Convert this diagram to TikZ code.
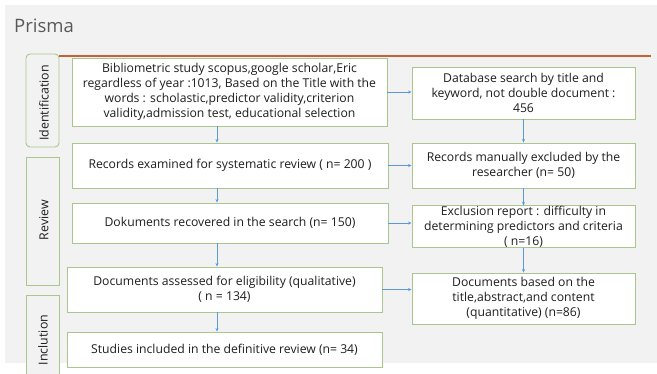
\documentclass[tikz,border=0pt]{standalone}
\usepackage{fontspec}
\setmainfont{Open Sans}
\usetikzlibrary{arrows.meta}
\definecolor{bgc}{RGB}{242,242,242}
\definecolor{boxc}{RGB}{169,199,140}
\definecolor{arrc}{RGB}{91,155,213}
\definecolor{orc}{RGB}{196,98,52}
\definecolor{txtc}{RGB}{30,30,30}
\definecolor{titc}{RGB}{89,89,89}
\tikzset{
  box/.style={draw=boxc, line width=0.9pt, fill=white, inner sep=0pt, align=center,
    text=txtc, font=\fontsize{12.2}{15}\selectfont},
  tabbox/.style={draw=boxc, line width=0.9pt, fill=bgc, inner sep=0pt, minimum width=33pt},
  tablabel/.style={rotate=90, text=txtc, font=\fontsize{12.4}{15}\selectfont, inner sep=0pt},
  arr/.style={draw=arrc, line width=0.7pt, -{Stealth[length=3.5pt,width=3pt]}},
}
\begin{document}
\begin{tikzpicture}[x=1pt,y=-1pt]
\useasboundingbox (0,0) rectangle (657,373);
\clip (0,0) rectangle (657,373);
\fill[white] (0,0) rectangle (657,373);
\fill[bgc] (5,5) rectangle (657,363);
\node[anchor=base west, text=titc, font=\fontsize{18.5}{22}\selectfont, inner sep=0pt] (title) at (14,32) {Prisma};
% tabs
\node[tabbox, minimum height=93pt, rounded corners=4pt] (t1) at (42.5,100.5) {};
\node[tabbox, minimum height=128pt] (t2) at (42.5,221) {};
\node[tabbox, minimum height=100pt] (t3) at (42.5,345) {};
\node[tablabel] (l1) at (44,103) {Identification};
\node[tablabel] (l2) at (44,220) {Review};
\node[tablabel] (l3) at (43,340) {Inclution};
% orange line
\coordinate (oa) at (59,56);
\coordinate (ob) at (651,56);
\draw[orc, line width=2pt] (oa) -- (ob);
% left boxes
\node[box, minimum width=315pt, minimum height=68pt] (b1) at (229.5,92) {Bibliometric study scopus,google scholar,Eric\\regardless of year :1013, Based on the Title with the\\words : scholastic,predictor validity,criterion\\validity,admission test, educational selection};
\node[box, minimum width=316pt, minimum height=45pt] (b2) at (230,165.5) {Records examined for systematic review ( n= 200 )};
\node[box, minimum width=316pt, minimum height=40pt] (b3) at (230,223) {Dokuments recovered in the search (n= 150)};
\node[box, minimum width=315pt, minimum height=45pt] (b4) at (224.5,289.5) {Documents assessed for eligibility (qualitative)\\( n = 134)};
\node[box, minimum width=315pt, minimum height=35pt] (b5) at (224.5,349.5) {Studies included in the definitive review (n= 34)};
% right boxes
\node[box, minimum width=223pt, minimum height=52pt] (r1) at (523.5,93) {Database search by title and\\keyword, not double document :\\456};
\node[box, minimum width=223pt, minimum height=45pt] (r2) at (523.5,165.5) {Records manually excluded by the\\researcher (n= 50)};
\node[box, minimum width=223pt, minimum height=37pt] (r3) at (523.5,226.5) {Exclusion report : difficulty in\\determining predictors and criteria\\( n=16)};
\node[box, minimum width=223pt, minimum height=51pt] (r4) at (523.5,298.5) {Documents based on the\\title,abstract,and content\\(quantitative) (n=86)};
% columns
\coordinate (cl) at (217,0);
\coordinate (cr) at (523.5,0);
% arrows
\draw[arr] (b1.south -| cl) -- (b2.north -| cl);
\draw[arr] (b2.south -| cl) -- (b3.north -| cl);
\draw[arr] (b3.south -| cl) -- (b4.north -| cl);
\draw[arr] (b4.south -| cl) -- (b5.north -| cl);
\draw[arr] (r1.south -| cr) -- (r2.north -| cr);
\draw[arr] (r2.south -| cr) -- (r3.north -| cr);
\draw[arr] (r3.south -| cr) -- (r4.north -| cr);
\draw[arr] (b1.east) -- (r1.west |- b1.east);
\draw[arr] (b2.east) -- (r2.west |- b2.east);
\draw[arr] (b3.east) -- (r3.west |- b3.east);
\draw[arr] (b4.east) -- (r4.west |- b4.east);
\end{tikzpicture}
\end{document}
